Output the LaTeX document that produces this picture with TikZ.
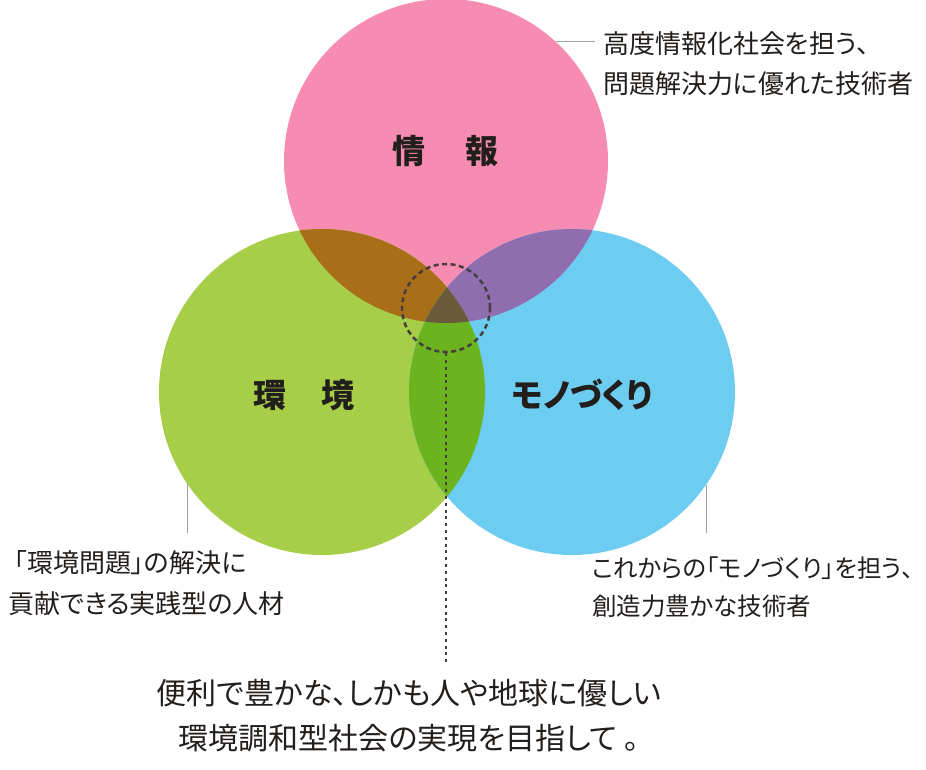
\documentclass[tikz,border=0pt]{standalone}
\usepackage{fontspec}
\newfontfamily\jp{Noto Sans CJK JP}[RawFeature=+palt]
\definecolor{cpink}{RGB}{247,140,179}
\definecolor{cgreen}{RGB}{166,206,72}
\definecolor{cblue}{RGB}{108,205,241}
\definecolor{cbrown}{RGB}{168,111,24}
\definecolor{cpurple}{RGB}{143,109,175}
\definecolor{clens}{RGB}{107,180,32}
\definecolor{ccore}{RGB}{107,90,60}
\definecolor{ctext}{RGB}{34,30,28}
\definecolor{clead}{RGB}{160,160,160}
\definecolor{cdash}{RGB}{70,62,62}
\tikzset{
  bigtitle/.style={font=\jp\bfseries\fontsize{33}{36}\selectfont, text=ctext, inner sep=0pt},
  sidetext/.style={font=\jp\fontsize{26}{30}\selectfont, text=ctext, inner sep=0pt, anchor=west},
  sidetextsm/.style={font=\jp\fontsize{24.5}{30}\selectfont, text=ctext, inner sep=0pt, anchor=west},
  maintext/.style={font=\jp\fontsize{30}{34}\selectfont, text=ctext, inner sep=0pt},
  leader/.style={draw=clead, line width=1pt},
  coredash/.style={draw=cdash, line width=2.5pt, dash pattern=on 5pt off 3.5pt},
  linedash/.style={draw=cdash, line width=2.4pt, dash pattern=on 3pt off 3.8pt}
}
\begin{document}
\begin{tikzpicture}[x=1pt,y=-1pt]
\useasboundingbox (0,0) rectangle (926,770);
\fill[white] (0,0) rectangle (926,770);
\coordinate (cP) at (446,161);
\coordinate (cG) at (322,392);
\coordinate (cB) at (572,392);
% leader lines
\coordinate (lTRa) at (556,42);
\coordinate (lTRb) at (595,42);
\coordinate (lLa) at (187,483);
\coordinate (lLb) at (187,533);
\coordinate (lRa) at (706,485);
\coordinate (lRb) at (706,533);
\draw[leader] (lTRa) -- (lTRb);
\draw[leader] (lLa) -- (lLb);
\draw[leader] (lRa) -- (lRb);
% circles
\fill[cpink] (cP) circle (162pt);
\fill[cgreen] (cG) circle (163pt);
\fill[cblue] (cB) circle (163pt);
\begin{scope}
  \clip (cP) circle (162pt);
  \fill[cbrown] (cG) circle (163pt);
\end{scope}
\begin{scope}
  \clip (cP) circle (162pt);
  \fill[cpurple] (cB) circle (163pt);
\end{scope}
\begin{scope}
  \clip (cG) circle (163pt);
  \fill[clens] (cB) circle (163pt);
\end{scope}
\begin{scope}
  \clip (cP) circle (162pt);
  \clip (cG) circle (163pt);
  \fill[ccore] (cB) circle (163pt);
\end{scope}
% core marker
\node[circle, minimum size=88pt, inner sep=0pt, coredash] (core) at (446,308) {};
\coordinate (lineEnd) at (446,662);
\draw[linedash] (core.south) -- (lineEnd);
% circle labels
\node[bigtitle] (tInfo) at (445.5,151) {情\hspace{40pt}報};
\node[bigtitle] (tEnv) at (304,395) {環\hspace{36pt}境};
\node[bigtitle] (tMono) at (582,395) {モノづくり};
% side texts
\node[sidetext] (tr1) at (603,44) {高度情報化社会を担う、};
\node[sidetext] (tr2) at (603,84) {問題解決力に優れた技術者};
\node[sidetext] (lb1) at (14,563) {「環境問題」の解決に};
\node[sidetext] (lb2) at (8,604) {貢献できる実践型の人材};
\node[sidetextsm] (rb1) at (592,568) {これからの「モノづくり」を担う、};
\node[sidetextsm] (rb2) at (592,606) {創造力豊かな技術者};
% main text
\node[maintext] (m1) at (409,693) {便利で豊かな、しかも人や地球に優しい};
\node[maintext] (m2) at (409,738) {環境調和型社会の実現を目指して 。};
\end{tikzpicture}
\end{document}
